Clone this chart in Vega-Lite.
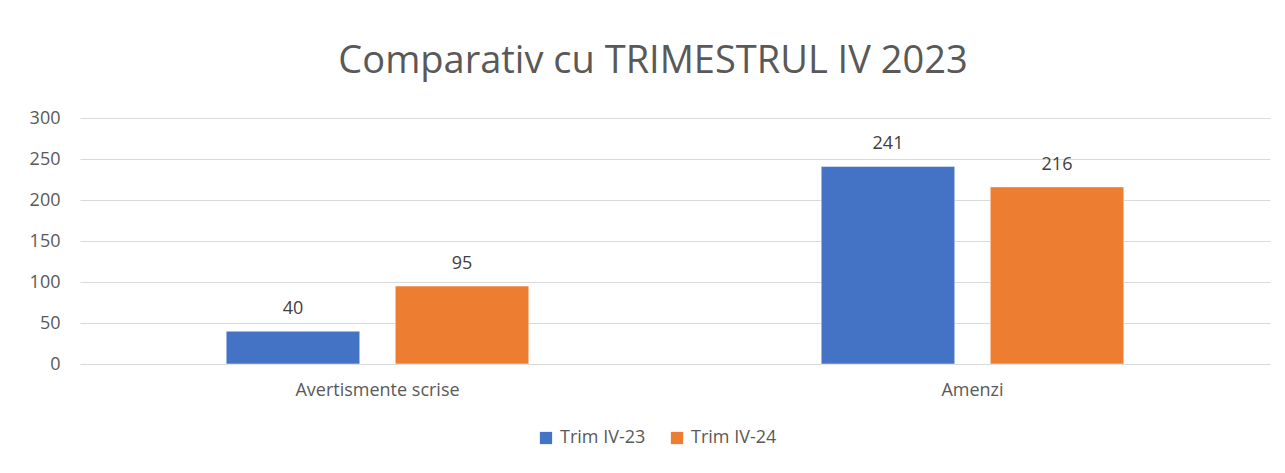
{
  "$schema": "https://vega.github.io/schema/vega-lite/v6.json",
  "autosize": "none",
  "width": 1190,
  "height": 246,
  "padding": {"left": 80, "top": 118, "right": 15, "bottom": 109},
  "background": "white",
  "title": {
    "text": "Comparativ cu TRIMESTRUL IV 2023",
    "font": "Open Sans",
    "fontSize": 38,
    "fontWeight": "normal",
    "color": "#595959",
    "anchor": "middle",
    "offset": 28,
    "dx": -22
  },
  "data": {
    "values": [
      {"categorie": "Avertismente scrise", "perioada": "Trim IV-23", "valoare": 40},
      {"categorie": "Avertismente scrise", "perioada": "Trim IV-24", "valoare": 95},
      {"categorie": "Amenzi", "perioada": "Trim IV-23", "valoare": 241},
      {"categorie": "Amenzi", "perioada": "Trim IV-24", "valoare": 216}
    ]
  },
  "encoding": {
    "x": {
      "field": "categorie",
      "type": "nominal",
      "sort": ["Avertismente scrise", "Amenzi"],
      "scale": {"paddingInner": 0, "paddingOuter": 0},
      "axis": {
        "title": null,
        "labelAngle": 0,
        "domain": false,
        "ticks": false,
        "labelFont": "Open Sans",
        "labelFontSize": 18,
        "labelColor": "#595959",
        "labelPadding": 17
      }
    },
    "xOffset": {
      "field": "perioada",
      "type": "nominal",
      "scale": {"paddingInner": 0.21, "paddingOuter": 0.865}
    },
    "y": {
      "field": "valoare",
      "type": "quantitative",
      "scale": {"domain": [0, 300], "nice": false},
      "axis": {
        "title": null,
        "values": [0, 50, 100, 150, 200, 250, 300],
        "domain": false,
        "ticks": false,
        "grid": true,
        "gridColor": "#d9d9d9",
        "gridWidth": 1,
        "labelFont": "Open Sans",
        "labelFontSize": 18,
        "labelColor": "#595959",
        "labelPadding": 20
      }
    }
  },
  "layer": [
    {
      "mark": {"type": "bar", "stroke": "white", "strokeWidth": 0.5},
      "encoding": {
        "color": {
          "field": "perioada",
          "type": "nominal",
          "scale": {"domain": ["Trim IV-23", "Trim IV-24"], "range": ["#4472c4", "#ed7d31"]},
          "legend": {
            "title": null,
            "orient": "none",
            "direction": "horizontal",
            "legendX": 457,
            "legendY": 311,
            "symbolType": "square",
            "symbolSize": 150,
            "symbolStrokeWidth": 0,
            "labelFont": "Open Sans",
            "labelFontSize": 18,
            "labelColor": "#595959",
            "columnPadding": 22,
            "labelOffset": 5
          }
        }
      }
    },
    {
      "mark": {
        "type": "text",
        "baseline": "bottom",
        "dy": -13,
        "font": "Open Sans",
        "fontSize": 18,
        "color": "#404040"
      },
      "encoding": {
        "text": {"field": "valoare", "type": "quantitative"}
      }
    }
  ],
  "config": {
    "view": {"stroke": null}
  }
}
